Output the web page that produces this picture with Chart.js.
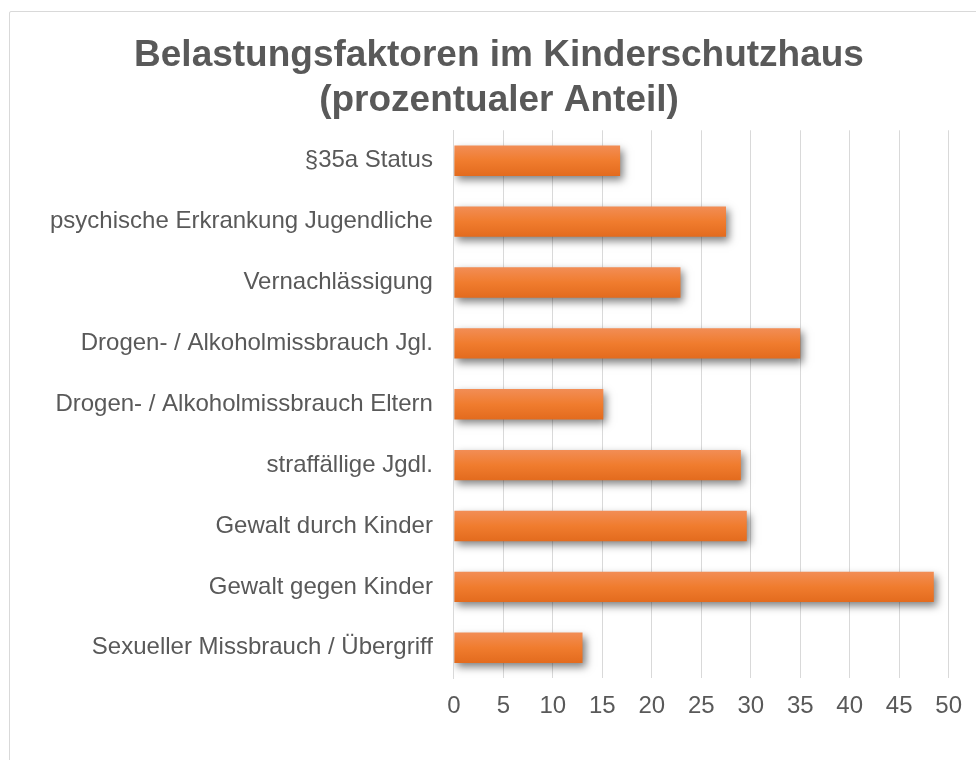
<!DOCTYPE html>
<html>
<head>
<meta charset="utf-8">
<script src="https://cdn.jsdelivr.net/npm/chart.js@4"></script>
<style>
  html, body { margin: 0; padding: 0; background: #fff; }
  #wrap { position: relative; width: 976px; height: 760px; overflow: hidden; }
  #frame { position: absolute; left: 9px; top: 11px; width: 1000px; height: 800px; border: 1px solid #d9d9d9; border-radius: 2px; }
  #belastungChart { position: absolute; left: 0; top: 0; }
</style>
</head>
<body>
<div id="wrap">
  <div id="frame"></div>
  <canvas id="belastungChart" width="976" height="760"></canvas>
</div>
<script>
// Kategorien (von oben nach unten)
const categories = [
    '§35a Status',
    'psychische Erkrankung Jugendliche',
    'Vernachlässigung',
    'Drogen- / Alkoholmissbrauch Jgl.',
    'Drogen- / Alkoholmissbrauch Eltern',
    'straffällige Jgdl.',
    'Gewalt durch Kinder',
    'Gewalt gegen Kinder',
    'Sexueller Missbrauch / Übergriff'
];

// Anteile in Prozent
const anteile = [16.8, 27.5, 22.9, 35.0, 15.1, 29.0, 29.6, 48.5, 13.0];

// Achsenbeschriftung x
const xTicks = [0, 5, 10, 15, 20, 25, 30, 35, 40, 45, 50];

const textColor = '#595959';
const gridColor = '#d9d9d9';
const fontFamily = '"Liberation Sans", Arial, sans-serif';

// Schatten unter den Balken
const barShadow = {
    id: 'barShadow',
    beforeDatasetsDraw(chart) {
        const ctx = chart.ctx;
        ctx.save();
        ctx.shadowColor = 'rgba(0, 0, 0, 0.5)';
        ctx.shadowBlur = 8;
        ctx.shadowOffsetX = 3;
        ctx.shadowOffsetY = 4;
    },
    afterDatasetsDraw(chart) {
        chart.ctx.restore();
    }
};

// Farbverlauf pro Balken
function barGradient(context) {
    const chart = context.chart;
    const yScale = chart.scales.y;
    if (!yScale || context.dataIndex === undefined) return '#f07c2e';
    const center = yScale.getPixelForValue(context.dataIndex);
    if (!isFinite(center)) return '#f07c2e';
    const half = 15;
    const g = chart.ctx.createLinearGradient(0, center - half, 0, center + half);
    g.addColorStop(0, '#f28d55');
    g.addColorStop(0.5, '#f07c2e');
    g.addColorStop(1, '#e36b1e');
    return g;
}

const ctx = document.getElementById('belastungChart');
new Chart(ctx.getContext('2d'), {
    type: 'bar',
    data: {
        labels: categories,
        datasets: [{
            label: 'Anteil',
            data: anteile,
            backgroundColor: barGradient,
            borderWidth: 0,
            categoryPercentage: 1.0,
            barPercentage: 0.5
        }]
    },
    options: {
        indexAxis: 'y',
        responsive: false,
        animation: false,
        layout: {
            padding: { left: 40, right: 18, top: 0, bottom: 25 }
        },
        plugins: {
            legend: { display: false },
            tooltip: { enabled: false },
            title: {
                display: true,
                text: ['Belastungsfaktoren im Kinderschutzhaus', '(prozentualer Anteil)'],
                color: textColor,
                font: { family: fontFamily, size: 37, weight: 'bold', lineHeight: 1.22 },
                padding: { top: 33, bottom: 7 }
            }
        },
        scales: {
            x: {
                min: 0,
                max: 50,
                afterBuildTicks: function(scale) {
                    scale.ticks = xTicks.map(v => ({ value: v }));
                },
                grid: {
                    color: gridColor,
                    lineWidth: 1,
                    drawTicks: false
                },
                border: { display: false },
                ticks: {
                    color: textColor,
                    font: { family: fontFamily, size: 24 },
                    padding: 14,
                    maxRotation: 0
                }
            },
            y: {
                afterFit: function(scale) {
                    // Titel mittig wie im Original, Achse bleibt an ihrer Stelle
                    scale.width -= 11;
                },
                grid: { display: false, drawTicks: false },
                border: { display: true, color: gridColor, width: 1 },
                ticks: {
                    color: textColor,
                    font: { family: fontFamily, size: 24 },
                    padding: 21
                }
            }
        }
    },
    plugins: [barShadow]
});
</script>
</body>
</html>
